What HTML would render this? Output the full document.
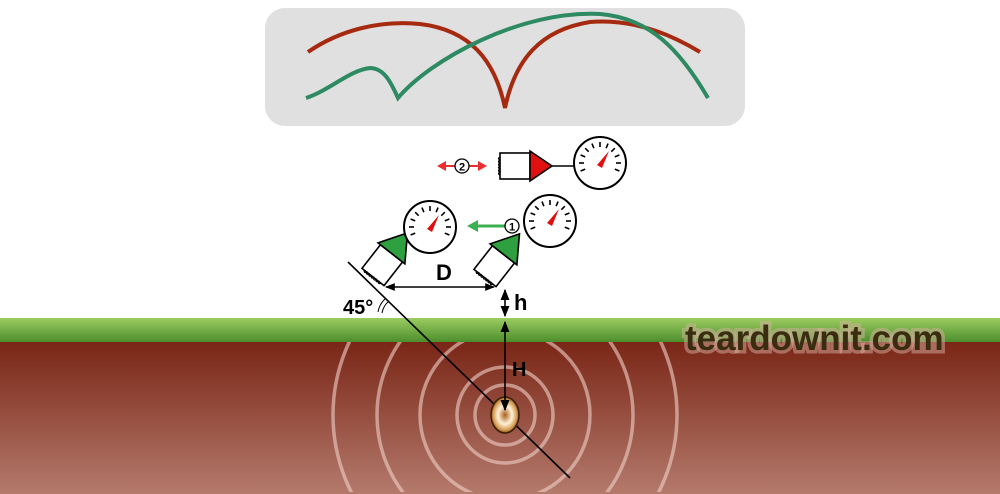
<!DOCTYPE html>
<html><head><meta charset="utf-8"><style>
html,body{margin:0;padding:0;background:#fff;overflow:hidden;width:1000px;height:494px;}
svg{display:block;font-family:"Liberation Sans",Arial,sans-serif;}
</style></head><body>
<svg width="1000" height="494" viewBox="0 0 1000 494" xmlns="http://www.w3.org/2000/svg">
<defs>
<linearGradient id="gr" x1="0" y1="0" x2="0" y2="1"><stop offset="0" stop-color="#9ccc60"/><stop offset="1" stop-color="#4c8e2c"/></linearGradient>
<linearGradient id="br" x1="0" y1="0" x2="0" y2="1"><stop offset="0" stop-color="#7a2616"/><stop offset="1" stop-color="#b47a6c"/></linearGradient>
<radialGradient id="tg" cx="0.5" cy="0.5" r="0.5"><stop offset="0" stop-color="#a8601c"/><stop offset="0.5" stop-color="#fff0d8"/><stop offset="0.85" stop-color="#d49a50"/><stop offset="1" stop-color="#7a4a18"/></radialGradient>
<clipPath id="cg"><rect x="0" y="342" width="1000" height="150"/></clipPath>
<marker id="ah" viewBox="0 0 10 10" refX="9" refY="5" markerWidth="7" markerHeight="7" orient="auto-start-reverse"><path d="M0,1 L10,5 L0,9 z" fill="#000"/></marker>
<g id="gauge">
<circle r="26" fill="#fff" stroke="#000" stroke-width="2"/>
<g stroke="#000" stroke-width="1.6">
<line x1="-21" y1="0" x2="-16" y2="0" transform="rotate(0)"/>
<line x1="-21" y1="0" x2="-16" y2="0" transform="rotate(22.5)"/>
<line x1="-21" y1="0" x2="-16" y2="0" transform="rotate(45)"/>
<line x1="-21" y1="0" x2="-16" y2="0" transform="rotate(67.5)"/>
<line x1="-21" y1="0" x2="-16" y2="0" transform="rotate(90)"/>
<line x1="-21" y1="0" x2="-16" y2="0" transform="rotate(112.5)"/>
<line x1="-21" y1="0" x2="-16" y2="0" transform="rotate(135)"/>
<line x1="-21" y1="0" x2="-16" y2="0" transform="rotate(157.5)"/>
<line x1="-21" y1="0" x2="-16" y2="0" transform="rotate(180)"/>
<line x1="-21" y1="0" x2="-16" y2="0" transform="rotate(202.5)"/>
<line x1="-21" y1="0" x2="-16" y2="0" transform="rotate(-22.5)"/>
</g>
<path d="M-3,2 L9,-12 L2,5 z" fill="#e01010"/>
</g>
<g id="probeG">
<rect x="0" y="-14" width="30" height="28" fill="#fff" stroke="#000" stroke-width="1.6"/>
<path d="M0,-11 q-3,1.5 0,3 q-3,1.5 0,3 q-3,1.5 0,3 q-3,1.5 0,3 q-3,1.5 0,3 q-3,1.5 0,3 q-3,1.5 0,3" fill="none" stroke="#000" stroke-width="1.2"/>
<path d="M30,-17 L56,0 L30,17 z" fill="#2fa040" stroke="#000" stroke-width="1.6"/>
</g>
</defs>
<rect x="265" y="8" width="480" height="118" rx="20" fill="#e0e0e0"/>
<path d="M308,52 C340,30 380,20 420,24 C470,30 495,60 505,108 C515,60 540,30 590,22 C640,18 680,40 700,52" fill="none" stroke="#a52a10" stroke-width="4"/>
<path d="M306,98 C330,90 350,70 370,68 C385,68 392,85 398,98 C430,60 520,10 600,14 C650,18 680,50 708,98" fill="none" stroke="#2e8a62" stroke-width="4"/>
<rect x="0" y="318" width="1000" height="24" fill="url(#gr)"/>
<rect x="0" y="342" width="1000" height="152" fill="url(#br)"/>
<g clip-path="url(#cg)" fill="none" stroke="#f0d0c8" stroke-opacity="0.6" stroke-width="3.5">
<circle cx="505" cy="415" r="30"/><circle cx="505" cy="415" r="48"/><circle cx="505" cy="415" r="85"/><circle cx="505" cy="415" r="128"/><circle cx="505" cy="415" r="172"/>
</g>
<line x1="348" y1="262" x2="570" y2="478" stroke="#000" stroke-width="1.6"/>
<ellipse cx="505" cy="415" rx="14" ry="18" fill="url(#tg)" stroke="#3a2008" stroke-width="1.5"/>
<line x1="505" y1="322" x2="505" y2="410" stroke="#000" stroke-width="1.6" marker-start="url(#ah)" marker-end="url(#ah)"/>
<line x1="505" y1="290" x2="505" y2="316" stroke="#000" stroke-width="1.6" marker-start="url(#ah)" marker-end="url(#ah)"/>
<line x1="386" y1="287" x2="494" y2="287" stroke="#000" stroke-width="1.4" marker-start="url(#ah)" marker-end="url(#ah)"/>
<text x="436" y="280" font-size="22" font-weight="bold">D</text>
<text x="514" y="310" font-size="22" font-weight="bold">h</text>
<text x="512" y="376" font-size="20" font-weight="bold">H</text>
<text x="343" y="314" font-size="20" font-weight="bold">45°</text>
<path d="M378,312 A24,24 0 0 1 386,298 M382,313 A20,20 0 0 1 389,301" fill="none" stroke="#000" stroke-width="1"/>
<use href="#probeG" transform="translate(373,277) rotate(-52)"/>
<use href="#probeG" transform="translate(485,278) rotate(-52)"/>
<use href="#gauge" transform="translate(430,227)"/>
<use href="#gauge" transform="translate(550,221)"/>
<use href="#gauge" transform="translate(600,163)"/>
<g transform="translate(500,166)">
<rect x="0" y="-13" width="30" height="26" fill="#fff" stroke="#000" stroke-width="1.6"/>
<path d="M0,-9 q-3,1.5 0,3 q-3,1.5 0,3 q-3,1.5 0,3 q-3,1.5 0,3 q-3,1.5 0,3 q-3,1.5 0,3" fill="none" stroke="#000" stroke-width="1.2"/>
<path d="M30,-15 L52,0 L30,15 z" fill="#e01010" stroke="#000" stroke-width="1.6"/>
<line x1="52" y1="0" x2="74" y2="0" stroke="#000" stroke-width="1.6"/>
</g>
<path d="M437,166 L446,161 L446,171 z M487,166 L478,161 L478,171 z" fill="#e83030"/>
<line x1="444" y1="166" x2="480" y2="166" stroke="#e83030" stroke-width="2"/>
<circle cx="462" cy="166" r="7" fill="#fff" stroke="#000" stroke-width="1.3"/>
<text x="462" y="170.5" font-size="11" font-weight="bold" text-anchor="middle">2</text>
<path d="M467,226 L478,220 L478,232 z" fill="#3cb050"/>
<line x1="476" y1="226" x2="505" y2="226" stroke="#3cb050" stroke-width="3"/>
<circle cx="512" cy="226" r="7" fill="#fff" stroke="#000" stroke-width="1.3"/>
<text x="512" y="230.5" font-size="11" font-weight="bold" text-anchor="middle">1</text>
<text x="685" y="350" font-size="35" font-weight="bold" fill="#3a2c10" style="paint-order:stroke" stroke="#d8b0a0" stroke-opacity="0.5" stroke-width="7">teardownit.com</text>
</svg>
</body></html>
